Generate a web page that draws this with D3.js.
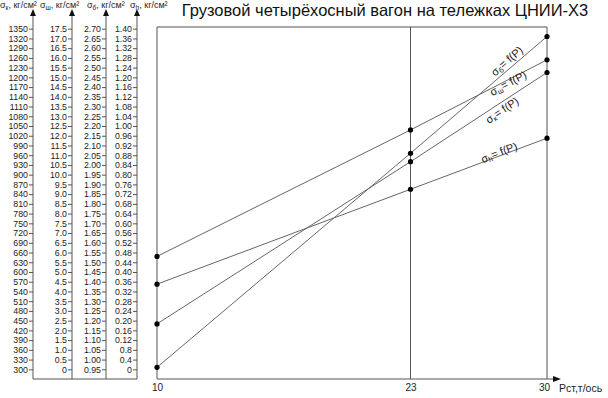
<!DOCTYPE html>
<html>
<head>
<meta charset="utf-8">
<script src="https://d3js.org/d3.v7.min.js"></script>
<style>
  body { margin: 0; background: #fff; }
  svg { font-family: "Liberation Sans", Arial, sans-serif; }
</style>
</head>
<body>
<script>
// Нагрузка на ось, т
const loads = [10, 23, 30];

// напряжения по осям
const sigmaK = [440, 940, 1215];     // кг/см2
const sigmaSh = [5.8, 12.3, 15.9];
const sigmaB = [0.96, 2.06, 2.66];
const sigmaH = [0.35, 0.74, 0.95];

// шкалы слева
const ticksK = [300, 330, 360, 390, 420, 450, 480, 510, 540, 570, 600, 630, 660, 690, 720, 750, 780, 810,
  840, 870, 900, 930, 960, 990, 1020, 1050, 1080, 1110, 1140, 1170, 1200, 1230, 1260, 1290, 1320, 1350];
const ticksSh = [0, 0.5, 1.0, 1.5, 2.0, 2.5, 3.0, 3.5, 4.0, 4.5, 5.0, 5.5, 6.0, 6.5, 7.0, 7.5, 8.0, 8.5,
  9.0, 9.5, 10.0, 10.5, 11.0, 11.5, 12.0, 12.5, 13.0, 13.5, 14.0, 14.5, 15.0, 15.5, 16.0, 16.5, 17.0, 17.5];
const ticksB = [0.95, 1.00, 1.05, 1.10, 1.15, 1.20, 1.25, 1.30, 1.35, 1.40, 1.45, 1.50, 1.55, 1.60, 1.65, 1.70,
  1.75, 1.80, 1.85, 1.90, 1.95, 2.00, 2.05, 2.10, 2.15, 2.20, 2.25, 2.30, 2.35, 2.40, 2.45, 2.50, 2.55, 2.60, 2.65, 2.70];
const ticksH = [0, 0.04, 0.08, 0.12, 0.16, 0.20, 0.24, 0.28, 0.32, 0.36, 0.40, 0.44, 0.48, 0.52, 0.56, 0.60,
  0.64, 0.68, 0.72, 0.76, 0.80, 0.84, 0.88, 0.92, 0.96, 1.00, 1.04, 1.08, 1.12, 1.16, 1.20, 1.24, 1.28, 1.32, 1.36, 1.40];
const labelsH = ["0", "0.4", "0.8", "0.12", "0.16", "0.20", "0.24", "0.28", "0.32", "0.36", "0.40", "0.44",
  "0.48", "0.52", "0.56", "0.60", "0.64", "0.68", "0.72", "0.76", "0.80", "0.84", "0.88", "0.92", "0.96",
  "1.00", "1.04", "1.08", "1.12", "1.16", "1.20", "1.24", "1.28", "1.32", "1.36", "1.40"];
const loadTicks = [10, 23, 30];

const width = 608, height = 398;
const yTop = 28.7, yBottom = 369.3;
const frame = {left: 157, right: 547, top: 27, bottom: 379};

const svg = d3.select("body").append("svg")
  .attr("width", width).attr("height", height);

const ink = "#555";

// title
svg.append("text")
  .attr("x", 385).attr("y", 15.5)
  .attr("text-anchor", "middle")
  .style("font-size", "16.5px")
  .style("fill", "#111")
  .text("Грузовой четырёхосный вагон на тележках ЦНИИ-Х3");

// left axes
const axes = [
  {x: 33, ticks: ticksK, fmt: d => String(d), sub: "к", lx: 0},
  {x: 72, ticks: ticksSh, fmt: d => d === 0 ? "0" : d.toFixed(1), sub: "ш", lx: 40},
  {x: 106, ticks: ticksB, fmt: d => d.toFixed(2), sub: "б", lx: 87},
  {x: 137, ticks: ticksH, fmt: (d, i) => labelsH[i], sub: "h", lx: 130}
];

axes.forEach(a => {
  a.scale = d3.scaleLinear().domain([a.ticks[0], a.ticks[a.ticks.length - 1]]).range([yBottom, yTop]);
  const g = svg.append("g").attr("transform", `translate(${a.x},0)`)
    .call(d3.axisLeft(a.scale).tickValues(a.ticks).tickFormat(a.fmt).tickSize(4).tickPadding(1).tickSizeOuter(0));
  g.select(".domain").remove();
  g.selectAll(".tick line").attr("stroke", ink);
  g.selectAll(".tick text").style("font-size", "8.8px").style("fill", "#222").attr("font-family", null);

  svg.append("line").attr("x1", a.x).attr("x2", a.x).attr("y1", 12).attr("y2", frame.bottom)
    .attr("stroke", ink);
  svg.append("path")
    .attr("d", `M${a.x},9 L${a.x - 3},16 L${a.x + 3},16 Z`)
    .attr("fill", "#111");

  const t = svg.append("text").attr("x", a.lx).attr("y", 8)
    .style("font-size", "9px").style("fill", "#222");
  t.append("tspan").text("σ");
  t.append("tspan").attr("dy", 1.5).style("font-size", "6.5px").text(a.sub);
  t.append("tspan").attr("dy", -1.5).text(", кг/см²");
});

svg.append("line")
  .attr("x1", axes[0].x).attr("x2", axes[3].x)
  .attr("y1", frame.bottom).attr("y2", frame.bottom)
  .attr("stroke", ink);

// main frame
const x = d3.scaleLinear().domain([10, 30]).range([frame.left, frame.right]);

svg.append("path")
  .attr("d", `M${frame.left},${frame.bottom} V${frame.top} H${frame.right} V${frame.bottom}`)
  .attr("fill", "none").attr("stroke", ink);
svg.append("line")
  .attr("x1", x(23)).attr("x2", x(23)).attr("y1", frame.top).attr("y2", frame.bottom)
  .attr("stroke", ink);

const gx = svg.append("g").attr("transform", `translate(0,${frame.bottom})`)
  .call(d3.axisBottom(x).tickValues(loadTicks).tickSize(0).tickPadding(5).tickFormat(d3.format("d")));
gx.select(".domain").remove();
gx.selectAll("text").style("font-size", "10px").style("fill", "#222").attr("font-family", null);
gx.selectAll(".tick").filter(d => d === 30).select("text").attr("x", -3);

svg.append("line")
  .attr("x1", frame.left).attr("x2", 556)
  .attr("y1", frame.bottom).attr("y2", frame.bottom)
  .attr("stroke", ink);
svg.append("path")
  .attr("d", `M561,${frame.bottom} L553,${frame.bottom - 3} L553,${frame.bottom + 3} Z`)
  .attr("fill", "#111");
svg.append("text")
  .attr("x", 559).attr("y", 391.5)
  .style("font-size", "10.5px").style("fill", "#222")
  .text("Рст,т/ось");

// lines
const series = [
  {vals: sigmaK, scale: axes[0].scale, sub: "к", at: 27.5, off: 7.5},
  {vals: sigmaSh, scale: axes[1].scale, sub: "ш", at: 27.93, off: 3.5},
  {vals: sigmaB, scale: axes[2].scale, sub: "б", at: 28.19, off: -7},
  {vals: sigmaH, scale: axes[3].scale, sub: "h", at: 27.6, off: -3}
];

series.forEach(s => {
  const pts = loads.map((p, i) => [x(p), s.scale(s.vals[i])]);
  svg.append("path")
    .attr("d", d3.line()(pts))
    .attr("fill", "none").attr("stroke", "#666").attr("stroke-width", 1);
  svg.selectAll(null).data(pts).join("circle")
    .attr("cx", d => d[0]).attr("cy", d => d[1]).attr("r", 2.6)
    .attr("fill", "#000");

  // label along last segment
  const [p1, p2] = [pts[1], pts[2]];
  const ang = Math.atan2(p2[1] - p1[1], p2[0] - p1[0]);
  const lx = x(s.at);
  const ly = p1[1] + (lx - p1[0]) * (p2[1] - p1[1]) / (p2[0] - p1[0]);
  const cx = lx - Math.sin(ang) * s.off;
  const cy = ly + Math.cos(ang) * s.off;
  const t = svg.append("text")
    .attr("transform", `translate(${cx},${cy}) rotate(${ang * 180 / Math.PI})`)
    .attr("text-anchor", "middle").attr("dy", "0.35em")
    .style("font-size", "11px").style("fill", "#222");
  t.append("tspan").text("σ");
  t.append("tspan").attr("dy", "0.2em").style("font-size", "7.5px").text(s.sub);
  t.append("tspan").attr("dy", "-0.2em").text("= f(P)");
});
</script>
</body>
</html>
